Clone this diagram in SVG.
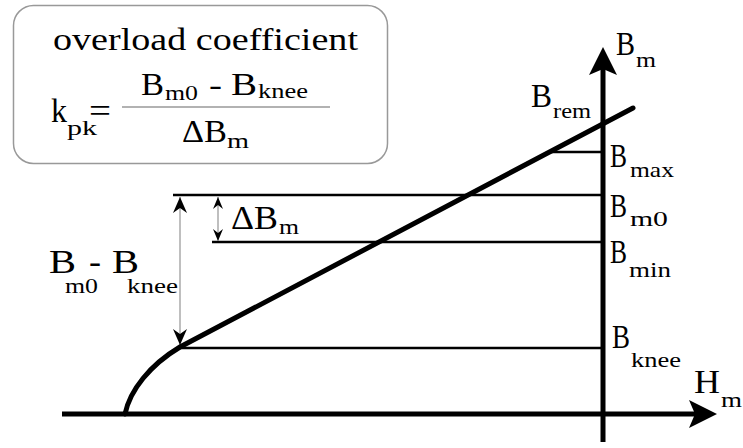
<svg xmlns="http://www.w3.org/2000/svg" width="743" height="448" viewBox="0 0 743 448">
<style>
text{font-family:"Liberation Serif","Times New Roman",serif;fill:#000}
.L{font-size:34px}
.M{font-size:31px}
.S{font-size:22px}
.axis{stroke:#000;stroke-width:5;fill:none}
.curve{stroke:#000;stroke-width:5;fill:none;stroke-linecap:round}
.lvl{stroke:#000;stroke-width:2.5;fill:none}
.dim{stroke:#aaa;stroke-width:1.5;fill:none}
.frac{stroke:#999;stroke-width:1.5}
</style>
<defs>
<marker id="ax" markerUnits="userSpaceOnUse" markerWidth="28" markerHeight="30" viewBox="0 0 28 30" refX="6" refY="15" orient="auto"><path d="M0,1 L28,15 L0,29 L6,15 Z" fill="#000"/></marker>
<marker id="dimA" markerUnits="userSpaceOnUse" markerWidth="16" markerHeight="16" viewBox="0 0 16 16" refX="16" refY="8" orient="auto-start-reverse"><path d="M0,1 L16,8 L0,15 L5,8 Z" fill="#000"/></marker>
<marker id="dimB" markerUnits="userSpaceOnUse" markerWidth="12" markerHeight="12" viewBox="0 0 12 12" refX="12" refY="6" orient="auto-start-reverse"><path d="M0,1 L12,6 L0,11 L4,6 Z" fill="#000"/></marker>
</defs>

<g id="formula-box">
<rect x="13.5" y="5.5" width="374" height="158" rx="20" fill="#fff" stroke="#999" stroke-width="1.5"/>
<text class="M" x="53" y="50" textLength="305" lengthAdjust="spacingAndGlyphs">overload coefficient</text>
<text class="L" x="51" y="122" textLength="16" lengthAdjust="spacingAndGlyphs">k</text>
<text class="S" x="67" y="135" textLength="30" lengthAdjust="spacingAndGlyphs">pk</text>
<text class="L" x="89" y="122" textLength="22" lengthAdjust="spacingAndGlyphs">=</text>
<line class="frac" x1="122" y1="107" x2="330" y2="107"/>
<text class="M" x="141" y="95" textLength="23" lengthAdjust="spacingAndGlyphs">B</text>
<text class="S" x="165" y="100" textLength="33" lengthAdjust="spacingAndGlyphs">m0</text>
<text class="M" x="209" y="95" textLength="13" lengthAdjust="spacingAndGlyphs">-</text>
<text class="M" x="231" y="95" textLength="26" lengthAdjust="spacingAndGlyphs">B</text>
<text class="S" x="258" y="98" textLength="50" lengthAdjust="spacingAndGlyphs">knee</text>
<text class="M" x="182" y="142" textLength="45" lengthAdjust="spacingAndGlyphs">ΔB</text>
<text class="S" x="227" y="148" textLength="22" lengthAdjust="spacingAndGlyphs">m</text>
</g>

<g id="connectors">
<path class="axis" d="M62,414 L695,414" marker-end="url(#ax)"/>
<path class="axis" d="M603,442 L603,69" marker-end="url(#ax)"/>
<path class="lvl" d="M550,152 L603,152"/>
<path class="lvl" d="M173,195 L603,195"/>
<path class="lvl" d="M212,242 L603,242"/>
<path class="lvl" d="M180,348 L603,348"/>
<path class="dim" d="M180,345 L180,197" marker-start="url(#dimA)" marker-end="url(#dimA)"/>
<path class="dim" d="M218,241 L218,197" marker-start="url(#dimB)" marker-end="url(#dimB)"/>
</g>

<g id="curve">
<path class="curve" d="M125,414 C130,390 150,365 180,347 L633,108"/>
</g>

<g id="labels">
<text class="L" x="616" y="55" textLength="19" lengthAdjust="spacingAndGlyphs">B</text>
<text class="S" x="636" y="67" textLength="20" lengthAdjust="spacingAndGlyphs">m</text>
<text class="L" x="531" y="107" textLength="21" lengthAdjust="spacingAndGlyphs">B</text>
<text class="S" x="553" y="118" textLength="38" lengthAdjust="spacingAndGlyphs">rem</text>
<text class="L" x="610" y="167" textLength="17" lengthAdjust="spacingAndGlyphs">B</text>
<text class="S" x="630" y="177" textLength="44" lengthAdjust="spacingAndGlyphs">max</text>
<text class="L" x="610" y="217" textLength="17" lengthAdjust="spacingAndGlyphs">B</text>
<text class="S" x="630" y="226" textLength="38" lengthAdjust="spacingAndGlyphs">m0</text>
<text class="L" x="610" y="263" textLength="17" lengthAdjust="spacingAndGlyphs">B</text>
<text class="S" x="629" y="277" textLength="42" lengthAdjust="spacingAndGlyphs">min</text>
<text class="L" x="612" y="348" textLength="18" lengthAdjust="spacingAndGlyphs">B</text>
<text class="S" x="631" y="367" textLength="50" lengthAdjust="spacingAndGlyphs">knee</text>
<text class="L" x="694" y="393" textLength="26" lengthAdjust="spacingAndGlyphs">H</text>
<text class="S" x="721" y="407" textLength="21" lengthAdjust="spacingAndGlyphs">m</text>
<text class="L" x="231" y="229" textLength="47" lengthAdjust="spacingAndGlyphs">ΔB</text>
<text class="S" x="279" y="234" textLength="20" lengthAdjust="spacingAndGlyphs">m</text>
<text class="L" x="49" y="273" textLength="27" lengthAdjust="spacingAndGlyphs">B</text>
<text class="S" x="65" y="293" textLength="33" lengthAdjust="spacingAndGlyphs">m0</text>
<text class="L" x="89" y="273" textLength="12" lengthAdjust="spacingAndGlyphs">-</text>
<text class="L" x="112" y="273" textLength="27" lengthAdjust="spacingAndGlyphs">B</text>
<text class="S" x="127" y="293" textLength="51" lengthAdjust="spacingAndGlyphs">knee</text>
</g>
</svg>
